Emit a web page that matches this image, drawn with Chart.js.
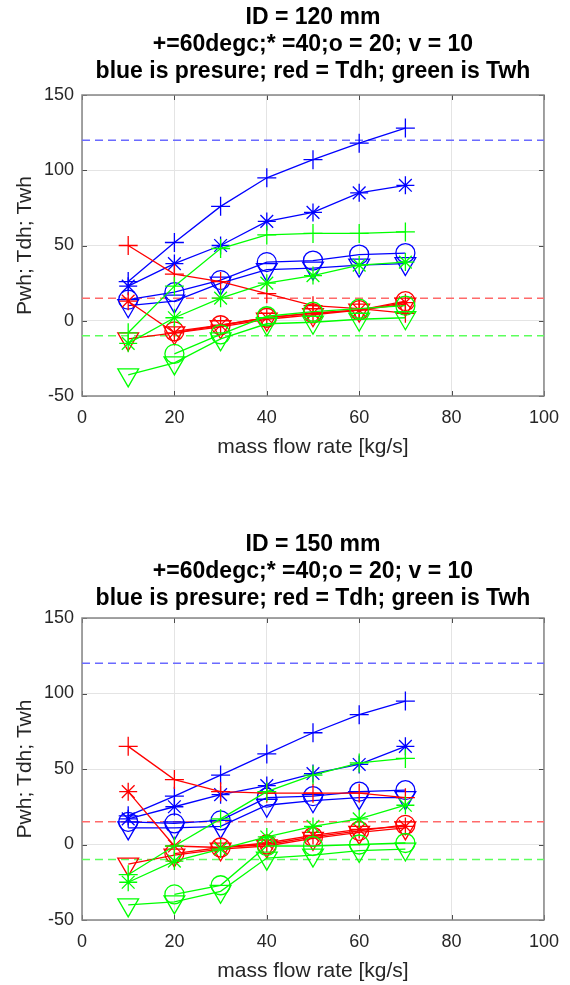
<!DOCTYPE html>
<html>
<head>
<meta charset="utf-8">
<script src="https://cdn.jsdelivr.net/npm/chart.js@4.4.1/dist/chart.umd.min.js"></script>
<style>
  html, body { margin: 0; padding: 0; background: #fff; width: 570px; height: 985px; overflow: hidden; }
  canvas { position: absolute; left: 0; }
  #c120 { top: 0; }
  #c150 { top: 523px; }
</style>
</head>
<body>
<canvas id="c120" width="570" height="523"></canvas>
<canvas id="c150" width="570" height="462"></canvas>
<script>
// mass flow rate [kg/s]
const massFlowRate = [10, 20, 30, 40, 50, 60, 70];
const xTicks = [0, 20, 40, 60, 80, 100];
const yTicks = [-50, 0, 50, 100, 150];
const limitSpan = [0, 100];
const pwhLimit = 120;
const tdhLimit = 15;
const twhLimit = -10;

// ID = 120 mm : blue Pwh, red Tdh, green Twh; + 60 degC, * 40, o 20, v 10
const pwh120_60 = [26, 52, 76, 95, 107, 118, 128];
const pwh120_40 = [23, 38, 50, 66, 72, 85, 90];
const pwh120_20 = [14, 19, 27, 39, 40, 44, 45];
const pwh120_10 = [10, 13, 25, 34, 35, 37, 38];
const tdh120_60 = [50, 31, 26, 18, 10, 8, 5];
const tdh120_40 = [13, -8, -3, 2, 5, 7, 12];
const tdh120_20 = [null, -7, -3, 2, 5, 7, 13];
const tdh120_10 = [-12, -8, -4, 1, 4, 7, 11];
const twh120_60 = [-8, 23, 48, 57, 58, 58, 59];
const twh120_40 = [-15, 2, 15, 25, 30, 37, 39];
const twh120_20 = [null, -22, -9, 3, 6, 8, 10];
const twh120_10 = [-36, -28, -12, -2, -1, 1, 2];

// ID = 150 mm
const pwh150_60 = [19, 32, 46, 60, 74, 86, 95];
const pwh150_40 = [17, 25, 33, 39, 47, 53, 65];
const pwh150_20 = [15, 14, 16, 31, 32, 35, 36];
const pwh150_10 = [11, 11, 12, 26, 29, 31, 31];
const tdh150_60 = [65, 43, 35, 34, 34, 34, 31];
const tdh150_40 = [35, -1, -2, 1, 6, 10, 12];
const tdh150_20 = [null, -6, -2, 0, 5, 9, 13];
const tdh150_10 = [-13, -7, -3, -1, 4, 8, 11];
const twh150_60 = [-20, -1, 17, 35, 46, 54, 57];
const twh150_40 = [-25, -11, -3, 5, 12, 17, 26];
const twh150_20 = [null, -33, -27, -1, -1, 0, 1];
const twh150_10 = [-40, -38, -31, -9, -7, -4, -3];

const BLUE = '#0000ff', RED = '#ff0000', GREEN = '#00ff00';
const markers = {
  '+': { pointStyle: 'cross', rotation: 0, radius: 9.5 },
  '*': { pointStyle: 'star', rotation: 0, radius: 9 },
  'o': { pointStyle: 'circle', rotation: 0, radius: 9.5 },
  'v': { pointStyle: 'triangle', rotation: 180, radius: 12 }
};

function series(values, color, mk) {
  const m = markers[mk];
  return {
    data: massFlowRate.map((x, i) => ({ x: x, y: values[i] })),
    borderColor: color,
    borderWidth: 1.3,
    pointStyle: m.pointStyle,
    pointRotation: m.rotation,
    pointRadius: m.radius,
    pointBorderColor: color,
    pointBackgroundColor: 'rgba(0,0,0,0)',
    pointBorderWidth: 1.3,
    fill: false,
    tension: 0
  };
}

function limitLine(level, color) {
  return {
    data: limitSpan.map(x => ({ x: x, y: level })),
    borderColor: color,
    borderWidth: 1.5,
    borderDash: [8, 5],
    pointRadius: 0,
    fill: false
  };
}

// axes box, inward tick marks and the three title lines
const framePlugin = {
  id: 'frame',
  beforeDatasetsDraw(chart) {
    const { ctx, chartArea: a, scales: { x, y } } = chart;
    ctx.save();
    ctx.strokeStyle = '#4d4d4d';
    ctx.lineWidth = 1;
    ctx.beginPath();
    xTicks.forEach(v => {
      const px = Math.round(x.getPixelForValue(v)) + 0.5;
      ctx.moveTo(px, a.bottom); ctx.lineTo(px, a.bottom - 5);
      ctx.moveTo(px, a.top); ctx.lineTo(px, a.top + 5);
    });
    yTicks.forEach(v => {
      const py = Math.round(y.getPixelForValue(v)) + 0.5;
      ctx.moveTo(a.left, py); ctx.lineTo(a.left + 5, py);
      ctx.moveTo(a.right, py); ctx.lineTo(a.right - 5, py);
    });
    ctx.stroke();
    ctx.strokeStyle = '#858585';
    ctx.lineWidth = 1.5;
    ctx.strokeRect(a.left, a.top, a.right - a.left, a.bottom - a.top);
    ctx.restore();
  },
  afterDraw(chart, args, opts) {
    const { ctx, chartArea: a } = chart;
    ctx.save();
    ctx.fillStyle = '#000';
    ctx.font = 'bold 23px "Liberation Sans", Arial, sans-serif';
    ctx.textAlign = 'center';
    ctx.textBaseline = 'middle';
    const cx = (a.left + a.right) / 2;
    opts.lines.forEach((t, i) => ctx.fillText(t, cx, opts.top + i * 27));
    ctx.restore();
  }
};

Chart.defaults.font.family = '"Liberation Sans", Arial, sans-serif';
Chart.defaults.color = '#262626';

function makeChart(id, titleLines, titleTop, sets, bottomPad) {
  const datasets = [
    series(sets.twh[0], GREEN, '+'), series(sets.twh[1], GREEN, '*'),
    series(sets.twh[2], GREEN, 'o'), series(sets.twh[3], GREEN, 'v'),
    series(sets.tdh[0], RED, '+'), series(sets.tdh[1], RED, '*'),
    series(sets.tdh[2], RED, 'o'), series(sets.tdh[3], RED, 'v'),
    series(sets.pwh[0], BLUE, '+'), series(sets.pwh[1], BLUE, '*'),
    series(sets.pwh[2], BLUE, 'o'), series(sets.pwh[3], BLUE, 'v'),
    limitLine(pwhLimit, '#6a6aff'),
    limitLine(tdhLimit, '#ff6a6a'),
    limitLine(twhLimit, '#5cff5c')
  ];
  return new Chart(document.getElementById(id), {
    type: 'line',
    data: { datasets: datasets },
    plugins: [framePlugin],
    options: {
      responsive: false,
      animation: false,
      devicePixelRatio: 1,
      layout: { padding: { top: 95, left: 0, right: 20, bottom: bottomPad } },
      plugins: {
        legend: { display: false },
        tooltip: { enabled: false },
        frame: { lines: titleLines, top: titleTop }
      },
      scales: {
        x: {
          type: 'linear', min: 0, max: 100,
          afterBuildTicks(s) { s.ticks = xTicks.map(v => ({ value: v })); },
          afterFit(s) { s.height = 62; },
          grid: { color: '#e4e4e4', drawTicks: false },
          border: { display: false },
          ticks: { padding: 11, font: { size: 18 }, color: '#262626', maxRotation: 0, autoSkip: false },
          title: { display: true, text: 'mass flow rate [kg/s]', font: { size: 21, lineHeight: 1 },
                   color: '#262626', padding: { top: 0, bottom: 0 } }
        },
        y: {
          type: 'linear', min: -50, max: 150,
          afterBuildTicks(s) { s.ticks = yTicks.map(v => ({ value: v })); },
          afterFit(s) { s.width = 82; },
          grid: { color: '#e4e4e4', drawTicks: false },
          border: { display: false },
          ticks: { padding: 8, font: { size: 18 }, color: '#262626', autoSkip: false },
          title: { display: true, text: 'Pwh; Tdh; Twh', font: { size: 21, lineHeight: 1 },
                   color: '#262626', padding: { top: 14.5, bottom: 0 } }
        }
      }
    }
  });
}

makeChart('c120',
  ['ID = 120 mm', '+=60degc;* =40;o = 20; v = 10', 'blue is presure; red = Tdh; green is Twh'], 18,
  { pwh: [pwh120_60, pwh120_40, pwh120_20, pwh120_10],
    tdh: [tdh120_60, tdh120_40, tdh120_20, tdh120_10],
    twh: [twh120_60, twh120_40, twh120_20, twh120_10] },
  65);

makeChart('c150',
  ['ID = 150 mm', '+=60degc;* =40;o = 20; v = 10', 'blue is presure; red = Tdh; green is Twh'], 22,
  { pwh: [pwh150_60, pwh150_40, pwh150_20, pwh150_10],
    tdh: [tdh150_60, tdh150_40, tdh150_20, tdh150_10],
    twh: [twh150_60, twh150_40, twh150_20, twh150_10] },
  3);
</script>
</body>
</html>
